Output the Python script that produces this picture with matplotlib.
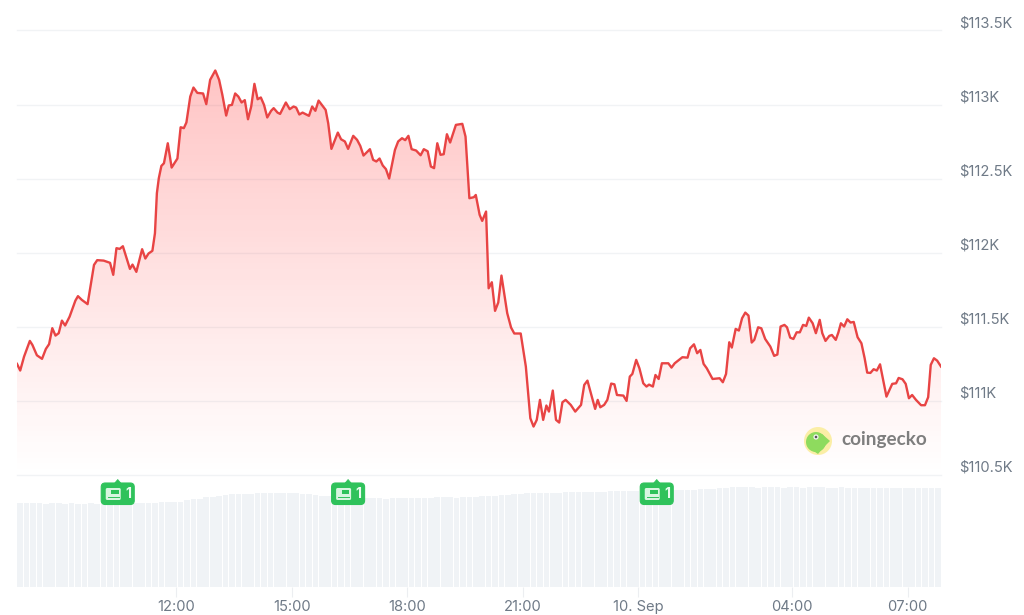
import numpy as np
import matplotlib
matplotlib.use('Agg')
import matplotlib.pyplot as plt
from matplotlib.patches import Circle, FancyBboxPatch, Polygon, Ellipse, Rectangle

plt.rcParams['font.family'] = ['Inter', 'DejaVu Sans']

# minutes since the window start (07:52) and BTC price in USD
minutes = [
    0, 5, 11, 20, 24, 31, 39, 45, 50, 55, 60, 65, 70, 75, 82, 91, 95, 101, 110, 120,
    125, 135, 145, 150, 155, 160, 165, 176, 180, 186, 195, 200, 205, 211, 215, 218, 221, 225, 229, 235,
    241, 250, 255, 260, 264, 270, 275, 281, 290, 295, 301, 309, 315, 320, 326, 330, 335, 340, 345, 350,
    355, 360, 365, 370, 375, 380, 385, 390, 396, 400, 406, 410, 419, 425, 431, 435, 440, 445, 455, 460,
    465, 470, 481, 485, 490, 500, 505, 511, 516, 524, 530, 535, 540, 550, 555, 560, 565, 570, 575, 580,
    589, 594, 600, 605, 610, 615, 622, 629, 634, 640, 645, 650, 655, 660, 665, 670, 675, 684, 694, 699,
    705, 712, 715, 721, 725, 731, 735, 740, 745, 750, 755, 764, 770, 775, 785, 793, 800, 805, 810, 815,
    820, 825, 829, 835, 840, 845, 850, 855, 863, 870, 879, 884, 889, 901, 905, 909, 915, 920, 926, 931,
    935, 945, 950, 955, 959, 965, 970, 976, 981, 985, 991, 995, 1000, 1005, 1015, 1020, 1025, 1037, 1045, 1049,
    1055, 1060, 1065, 1070, 1075, 1084, 1095, 1100, 1105, 1110, 1114, 1120, 1125, 1130, 1135, 1140, 1145, 1149, 1155, 1160,
    1166, 1174, 1180, 1185, 1190, 1196, 1200, 1205, 1210, 1215, 1220, 1225, 1230, 1234, 1240, 1245, 1251, 1255, 1260, 1266,
    1270, 1276, 1280, 1284, 1289, 1294, 1299, 1304, 1310, 1316, 1321, 1325, 1330, 1335, 1340, 1345, 1355, 1364, 1370, 1374,
    1380, 1385, 1390, 1395, 1401, 1409, 1415, 1420, 1424, 1429, 1434, 1440,
]
price_usd = [
    111250, 111205, 111299, 111405, 111378, 111308, 111284, 111351, 111383, 111491, 111441, 111457, 111542, 111509, 111569, 111677, 111707, 111682, 111653, 111918,
    111950, 111947, 111932, 111851, 112031, 112026, 112044, 111891, 111920, 111871, 112024, 111961, 111995, 112013, 112132, 112402, 112503, 112586, 112604, 112739,
    112575, 112636, 112847, 112841, 112879, 113054, 113115, 113079, 113075, 113003, 113167, 113230, 113167, 113066, 112926, 112994, 112998, 113075, 113054, 113014,
    113030, 112901, 112987, 113140, 113036, 113048, 112998, 112913, 112958, 112976, 112946, 112937, 113014, 112969, 112987, 112980, 112933, 112946, 112924, 112987,
    112958, 113027, 112964, 112874, 112701, 112811, 112766, 112751, 112701, 112789, 112762, 112721, 112656, 112699, 112627, 112616, 112636, 112589, 112564, 112501,
    112694, 112751, 112773, 112760, 112789, 112699, 112690, 112658, 112699, 112685, 112582, 112571, 112739, 112661, 112665, 112800, 112744, 112863, 112870, 112784,
    112368, 112375, 112390, 112256, 112215, 112278, 111760, 111801, 111608, 111664, 111846, 111592, 111495, 111455, 111455, 111232, 110883, 110827, 110872, 111007,
    110872, 110969, 110928, 111070, 110872, 110854, 110991, 111007, 110973, 110928, 110973, 111108, 111137, 110946, 111007, 110957, 110973, 111007, 111117, 111112,
    111040, 111036, 111000, 111164, 111182, 111277, 111220, 111119, 111097, 111110, 111097, 111175, 111148, 111254, 111254, 111225, 111254, 111295, 111292, 111355,
    111382, 111322, 111344, 111250, 111220, 111148, 111153, 111126, 111182, 111396, 111360, 111486, 111475, 111558, 111596, 111576, 111394, 111412, 111497, 111490,
    111418, 111367, 111304, 111313, 111502, 111513, 111497, 111427, 111418, 111463, 111463, 111513, 111506, 111562, 111524, 111457, 111547, 111457, 111405, 111439,
    111445, 111412, 111461, 111524, 111502, 111551, 111529, 111533, 111430, 111389, 111288, 111191, 111189, 111214, 111205, 111247, 111029, 111115, 111119, 111155,
    111146, 111115, 111018, 111040, 111007, 110971, 110971, 111025, 111243, 111288, 111272, 111232,
]

# volume in billions, one bar every 10 minutes
volume = [
    33.6, 33.5, 33.6, 33.6, 33.4, 33.6, 33.5, 33.4, 33.5, 33.4, 33.4, 33.5, 33.4, 33.3, 33.4, 33.4, 33.5,
    33.6, 33.6, 33.5, 33.7, 33.8, 33.9, 34.0, 34.1, 34.0, 35.0, 35.2, 35.3, 35.9, 36.2, 36.5, 36.7,
    37.1, 37.2, 37.4, 37.3, 37.5, 37.5, 37.6, 37.5, 37.6, 37.7, 37.5, 37.3, 37.2, 36.8, 36.6, 36.6,
    36.5, 36.2, 36.0, 36.0, 35.9, 35.8, 35.7, 35.6, 35.4, 35.5, 35.6, 35.7, 35.6, 35.5, 35.7, 35.8,
    35.9, 36.0, 35.9, 35.8, 36.0, 36.2, 36.1, 36.3, 36.5, 36.6, 36.8, 37.0, 37.2, 37.4, 37.5, 37.6,
    37.7, 37.8, 37.7, 37.8, 37.9, 38.0, 38.0, 38.1, 38.2, 38.1, 38.2, 38.3, 38.3, 38.4, 38.4, 38.5,
    38.4, 38.5, 38.5, 38.6, 38.7, 38.7, 38.8, 38.9, 39.0, 39.1, 39.2, 39.4, 39.6, 39.8, 39.9, 39.9,
    40.0, 39.9, 39.8, 39.9, 40.0, 39.9, 39.8, 39.9, 39.9, 39.8, 39.9, 40.0, 39.9, 39.8, 39.8, 39.9,
    39.8, 39.7, 39.8, 39.7, 39.6, 39.7, 39.8, 39.7, 39.6, 39.6, 39.7, 39.6, 39.6, 39.6, 39.7, 39.6,
]
volume_minutes = np.arange(len(volume)) * 10

price_ticks = [110500, 111000, 111500, 112000, 112500, 113000, 113500]
price_labels = ['$110.5K', '$111K', '$111.5K', '$112K', '$112.5K', '$113K', '$113.5K']
time_ticks = [248, 428, 608, 788, 968, 1208, 1388]
time_labels = ['12:00', '15:00', '18:00', '21:00', '10. Sep', '04:00', '07:00']
news_minutes = [157, 516, 997]
news_counts = ['1', '1', '1']

W, H = 1024, 615
fig = plt.figure(figsize=(W / 100, H / 100), dpi=100, facecolor='white')


def px_axes(left, top, right, bottom):
    return fig.add_axes([left / W, 1 - bottom / H, (right - left) / W, (bottom - top) / H])


LEFT, RIGHT = 17, 941
xlim = (0, 1440)

# price panel
ax = px_axes(LEFT, 30.5, RIGHT, 475)
ax.set_xlim(xlim)
ax.set_ylim(110500, 113500)
ax.set_facecolor('none')
for s in ax.spines.values():
    s.set_visible(False)
ax.set_xticks([])
ax.yaxis.tick_right()
ax.set_yticks(price_ticks)
ax.set_yticklabels(price_labels, color='#6f7a87', fontsize=10.6, va='bottom')
ax.tick_params(axis='y', length=0, pad=13)
for v in price_ticks:
    ax.axhline(v, color='#f1f3f5', lw=1, clip_on=False, zorder=0.5)

grad = np.zeros((256, 2, 4))
grad[..., 0] = 1.0
grad[..., 1] = 0.22
grad[..., 2] = 0.22
grad[..., 3] = np.linspace(0.30, 0.0, 256)[:, None]
im = ax.imshow(grad, extent=(0, 1440, 110500, 113300), origin='upper', aspect='auto', zorder=1)
area = ax.fill_between(minutes, price_usd, 110500, color='none', lw=0)
im.set_clip_path(area.get_paths()[0], transform=ax.transData)
ax.set_xlim(xlim)
ax.set_ylim(110500, 113500)
ax.plot(minutes, price_usd, color='#e84444', lw=1.7, zorder=3, solid_joinstyle='round')

# volume panel
ax2 = px_axes(LEFT, 475, RIGHT, 587)
ax2.set_xlim(xlim)
ax2.set_ylim(0, 44.8)
ax2.set_facecolor('none')
for s in ax2.spines.values():
    s.set_visible(False)
ax2.bar(volume_minutes + 5, volume, width=8.8, color='#f0f3f6', lw=0)
ax2.set_yticks([])
ax2.set_xticks(time_ticks)
ax2.set_xticklabels(time_labels, color='#6f7a87', fontsize=10.6)
ax2.tick_params(axis='x', length=7, width=0.8, color='#eceef1', pad=2.5)

# overlay in pixel coordinates for badges and logo
ov = fig.add_axes([0, 0, 1, 1])
ov.set_xlim(0, W)
ov.set_ylim(H, 0)
ov.axis('off')
ov.patch.set_alpha(0)

green = '#2fc25b'
for m, n in zip(news_minutes, news_counts):
    cx = LEFT + m * (RIGHT - LEFT) / 1440
    ov.add_patch(FancyBboxPatch((cx - 16.5, 483), 33, 21.5, boxstyle='round,pad=0,rounding_size=4',
                                fc=green, ec=green, lw=0.8))
    ov.add_patch(Polygon([[cx - 3, 483], [cx, 479.5], [cx + 3, 483]], fc=green, ec=green, lw=0.5))
    ov.add_patch(FancyBboxPatch((cx - 12, 488), 15, 12, boxstyle='round,pad=0,rounding_size=1.5',
                                fc='#d8f5e0', ec='none'))
    ov.add_patch(Rectangle((cx - 6.5, 490), 7.5, 4, fc=green, ec='none'))
    ov.plot([cx - 10, cx + 1], [496.5, 496.5], color=green, lw=0.7)
    ov.text(cx + 10.5, 494.5, n, color='#e8faee', fontsize=10, fontweight='bold', ha='center', va='center')

ov.add_patch(Circle((818, 441), 14, fc='#fbeea6', ec='none'))
ov.add_patch(Ellipse((816, 442), 20, 20, fc='#8edb5e', ec='none'))
ov.add_patch(Polygon([[822, 434], [830, 441], [824, 447], [818, 454], [812, 450]], fc='#8edb5e', ec='none'))
ov.add_patch(Circle((816, 437), 2.6, fc='#f4f4f4', ec='none'))
ov.add_patch(Circle((816, 437), 1.3, fc='#555555', ec='none'))
ov.text(841, 440, 'coingecko', color='#7e7e7e', fontsize=13.6, fontweight='bold',
        family=['Lato', 'DejaVu Sans'], ha='left', va='center')

fig.savefig('out.png', dpi=100)
